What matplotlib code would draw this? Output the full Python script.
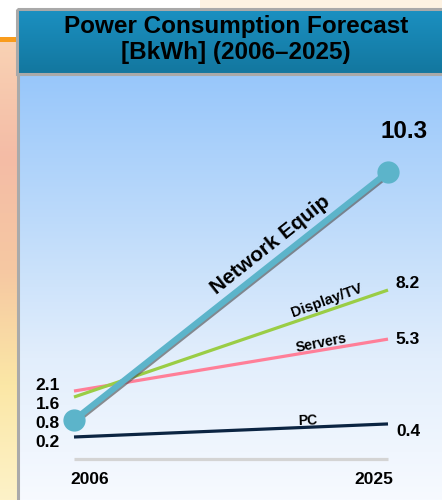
import matplotlib
matplotlib.use("Agg")
import matplotlib.pyplot as plt
import matplotlib.patheffects as pe
import numpy as np
from matplotlib.colors import to_rgb
from matplotlib.patches import Rectangle

plt.rcParams["font.family"] = ["Liberation Sans", "DejaVu Sans"]

# --- data -------------------------------------------------------------
years = [2006, 2025]
series = ["Network Equip", "Display/TV", "Servers", "PC"]
colors = ["#5cb4ca", "#9acd45", "#ff7f98", "#0b2442"]
# forecast values printed on the slide [BkWh]
value_2006 = [0.8, 1.6, 2.1, 0.2]
value_2025 = [10.3, 8.2, 5.3, 0.4]
# line heights as drawn on the slide (the original is not to scale)
drawn_2006 = [0.8, 1.68, 1.91, 0.15]
drawn_2025 = [10.3, 5.78, 3.90, 0.65]

W, H = 442, 500
fig = plt.figure(figsize=(W / 100, H / 100), dpi=100)
fig.patch.set_facecolor("white")

# background axes in pixel coordinates
bg = fig.add_axes([0, 0, 1, 1])
bg.set_xlim(0, W)
bg.set_ylim(H, 0)
bg.axis("off")
pix = bg.transData


def vgrad(ax, x0, x1, y0, y1, stops, z=0):
    n = 256
    t = np.linspace(0, 1, n)
    pos = np.linspace(0, 1, len(stops))
    cols = np.array([to_rgb(c) for c in stops])
    img = np.stack([np.interp(t, pos, cols[:, k]) for k in range(3)], axis=-1)
    ax.imshow(img[:, None, :], extent=(x0, x1, y1, y0), aspect="auto",
              origin="upper", zorder=z, interpolation="bilinear")


# slide decoration on the left and top
vgrad(bg, 0, W, 0, 9, ["#ffffff", "#ffffff"])
bg.add_patch(Rectangle((200, 0), 242, 9, color="#fdf2e2", zorder=0.5, lw=0))
vgrad(bg, 0, 17, 41, H, ["#f9d2b4", "#f4bca6", "#f6c8a2", "#fbe7a6", "#fdf2c8"])
bg.add_patch(Rectangle((0, 36.5), 17, 5, color="#f99c1c", zorder=1, lw=0))

# title box
vgrad(bg, 17, W, 10, 73, ["#1b90c1", "#13779f"], z=1)
bg.add_patch(Rectangle((17, 9), W, 65, fill=False, ec="#a9a9a9", lw=2.2, zorder=2))
bg.text(236, 27, "Power Consumption Forecast", ha="center", va="center",
        fontsize=17.5, fontweight="bold", color="black", zorder=3)
bg.text(236, 53, "[BkWh] (2006\u20132025)", ha="center", va="center",
        fontsize=17.5, fontweight="bold", color="black", zorder=3)

# chart panel
vgrad(bg, 18, W, 75, H, ["#98c7fb", "#bcdafa", "#e2eefc", "#f7faff"], z=1)
bg.plot([17.5, 17.5], [74, H], color="#aaaaaa", lw=2.2, zorder=2)

# --- data axes --------------------------------------------------------
ax = fig.add_axes([0, 0, 1, 1], zorder=2)
ax.patch.set_alpha(0)
ax.axis("off")
px_per_year = (388 - 74) / (years[1] - years[0])
ax.set_xlim(years[0] - 74 / px_per_year, years[1] + (W - 388) / px_per_year)
px_per_unit = 26.1
zero_px = 440.9
ax.set_ylim(-(H - zero_px) / px_per_unit, zero_px / px_per_unit)

# base line
ax.plot(years, [-0.69, -0.69], color="#d4d4d4", lw=2.3, solid_capstyle="butt")

for i in range(len(series) - 1, -1, -1):
    ys = [drawn_2006[i], drawn_2025[i]]
    if i == 0:
        ax.plot(years, ys, color=colors[i], lw=4.4, solid_capstyle="butt",
                zorder=5,
                path_effects=[pe.SimpleLineShadow(offset=(1.0, -1.0),
                                                  shadow_color="#555555",
                                                  alpha=0.65),
                              pe.Normal()])
        ax.plot(years, ys, "o", color=colors[i], ms=15, zorder=6)
    else:
        ax.plot(years, ys, color=colors[i], lw=2.3, solid_capstyle="butt",
                zorder=4)

# right-hand values
right_pos = [(404, 132, 17.5), (408, 284, 12.5), (408, 340, 12.5), (408, 432, 12.5)]
for (x, y, fs), v in zip(right_pos, value_2025):
    ax.text(x, y, f"{v:.1f}", transform=pix, ha="center", va="center",
            fontsize=fs, fontweight="bold", zorder=7)

# left-hand values, stacked
order = np.argsort(value_2006)[::-1]
for k, i in enumerate(order):
    ax.text(60, 385 + k * 19.3, f"{value_2006[i]:.1f}", transform=pix,
            ha="right", va="center", fontsize=12.5, fontweight="bold", zorder=7)

# series labels along the lines
label_pos = [(270, 245, 38.5, 15), (327, 301, 20, 10.5),
             (321, 343, 11, 10.2), (308, 421, 2, 10)]
for (x, y, rot, fs), name in zip(label_pos, series):
    ax.text(x, y, name, transform=pix, ha="center", va="center",
            rotation=rot, rotation_mode="anchor", fontsize=fs,
            fontweight="bold", zorder=7)

# year labels
ax.text(90, 479, str(years[0]), transform=pix, ha="center", va="center",
        fontsize=12.5, fontweight="bold")
ax.text(374, 479, str(years[1]), transform=pix, ha="center", va="center",
        fontsize=12.5, fontweight="bold")

fig.savefig("out.png", dpi=100)
